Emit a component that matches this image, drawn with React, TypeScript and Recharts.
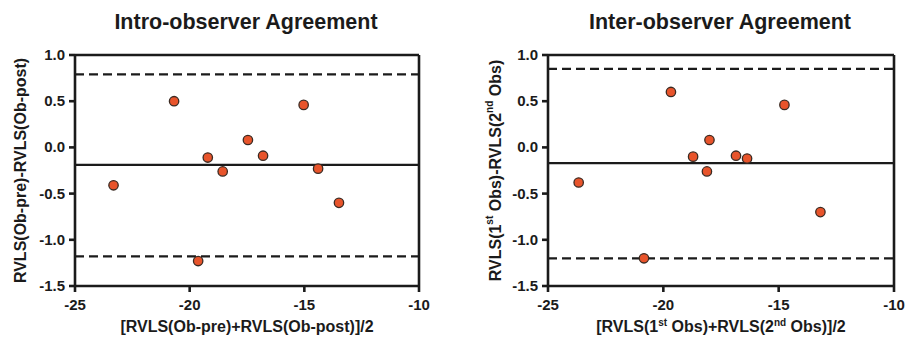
import React from "react";
import {
  ScatterChart,
  Scatter,
  XAxis,
  YAxis,
  ReferenceLine,
} from "recharts";

const xTicks = [-25, -20, -15, -10];
const yTicks = [-1.5, -1.0, -0.5, 0.0, 0.5, 1.0];

const introX = [-23.32, -20.68, -19.63, -19.21, -18.56, -17.46, -16.8, -15.03, -14.4, -13.49];
const introY = [-0.41, 0.5, -1.23, -0.11, -0.26, 0.08, -0.09, 0.46, -0.23, -0.6];
const introMean = -0.19;
const introUpper = 0.79;
const introLower = -1.18;

const interX = [-23.67, -20.84, -19.67, -18.71, -18.11, -18.0, -16.85, -16.37, -14.75, -13.19];
const interY = [-0.38, -1.2, 0.6, -0.1, -0.26, 0.08, -0.09, -0.12, 0.46, -0.7];
const interMean = -0.17;
const interUpper = 0.85;
const interLower = -1.2;

const FONT = "'Liberation Sans', Arial, Helvetica, sans-serif";
const INK = "#1b1b1b";
const LW = 2.6;
const AX = { stroke: INK, strokeWidth: LW };

const toRows = (xs: number[], ys: number[]) => xs.map((x, i) => ({ x, y: ys[i] }));

const Dot = (p: any) => (
  <circle cx={p.cx} cy={p.cy} r={4.7} fill="#E8542B" stroke="#3b2a22" strokeWidth={1.3} />
);

const XTick = (p: any) => (
  <text x={p.x} y={p.y} dy={14} textAnchor="middle" fontFamily={FONT} fontSize={15} fontWeight={700} fill={INK}>
    {p.payload.value}
  </text>
);
const YTick = (p: any) => (
  <text x={p.x} y={p.y} dy={5} textAnchor="end" fontFamily={FONT} fontSize={15} fontWeight={700} fill={INK}>
    {Number(p.payload.value).toFixed(1)}
  </text>
);

const Sup = ({ children }: { children: React.ReactNode }) => (
  <tspan fontSize={10} dy={-6}>
    {children}
  </tspan>
);
const Down = ({ children }: { children: React.ReactNode }) => <tspan dy={6}>{children}</tspan>;

const textStyle = { fontFamily: FONT, fontWeight: 700, fill: INK } as const;

export default function App() {
  return (
    <div style={{ position: "absolute", left: 0, top: 0, width: 905, height: 339, background: "#fff" }}>
      <div style={{ position: "absolute", left: 0, top: 0 }}>
        <ScatterChart width={455} height={339} margin={{ top: 55, right: 36, bottom: 0, left: 0 }}>
          <XAxis type="number" dataKey="x" domain={[-25, -10]} ticks={xTicks} allowDataOverflow tick={XTick} tickSize={6} tickMargin={4} height={53} axisLine={AX} tickLine={AX} />
          <YAxis type="number" dataKey="y" domain={[-1.5, 1]} ticks={yTicks} allowDataOverflow width={75} tick={YTick} tickSize={6} tickMargin={4} axisLine={AX} tickLine={AX} />
          <ReferenceLine y={1} stroke={INK} strokeWidth={LW} />
          <ReferenceLine x={-10} stroke={INK} strokeWidth={LW} />
          <ReferenceLine y={introUpper} stroke={INK} strokeWidth={2.2} strokeDasharray="9 5" />
          <ReferenceLine y={introLower} stroke={INK} strokeWidth={2.2} strokeDasharray="9 5" />
          <ReferenceLine y={introMean} stroke={INK} strokeWidth={2.2} />
          <Scatter data={toRows(introX, introY)} shape={Dot} isAnimationActive={false} />
        </ScatterChart>
      </div>
      <div style={{ position: "absolute", left: 455, top: 0 }}>
        <ScatterChart width={450} height={339} margin={{ top: 55, right: 11, bottom: 0, left: 0 }}>
          <XAxis type="number" dataKey="x" domain={[-25, -10]} ticks={xTicks} allowDataOverflow tick={XTick} tickSize={6} tickMargin={4} height={53} axisLine={AX} tickLine={AX} />
          <YAxis type="number" dataKey="y" domain={[-1.5, 1]} ticks={yTicks} allowDataOverflow width={93} tick={YTick} tickSize={6} tickMargin={4} axisLine={AX} tickLine={AX} />
          <ReferenceLine y={1} stroke={INK} strokeWidth={LW} />
          <ReferenceLine x={-10} stroke={INK} strokeWidth={LW} />
          <ReferenceLine y={interUpper} stroke={INK} strokeWidth={2.2} strokeDasharray="9 5" />
          <ReferenceLine y={interLower} stroke={INK} strokeWidth={2.2} strokeDasharray="9 5" />
          <ReferenceLine y={interMean} stroke={INK} strokeWidth={2.2} />
          <Scatter data={toRows(interX, interY)} shape={Dot} isAnimationActive={false} />
        </ScatterChart>
      </div>
      <svg width={905} height={339} style={{ position: "absolute", left: 0, top: 0, pointerEvents: "none" }}>
        <text x={246} y={29} textAnchor="middle" fontSize={21.5} {...textStyle}>
          Intro-observer Agreement
        </text>
        <text x={720} y={29} textAnchor="middle" fontSize={21.5} {...textStyle}>
          Inter-observer Agreement
        </text>
        <text x={247} y={332} textAnchor="middle" fontSize={16} {...textStyle}>
          [RVLS(Ob-pre)+RVLS(Ob-post)]/2
        </text>
        <text x={721} y={332} textAnchor="middle" fontSize={16} {...textStyle}>
          <tspan>[RVLS(1</tspan>
          <Sup>st</Sup>
          <Down> Obs)+RVLS(2</Down>
          <Sup>nd</Sup>
          <Down> Obs)]/2</Down>
        </text>
        <text x={20} y={170.5} transform="rotate(-90 20 170.5)" textAnchor="middle" dominantBaseline="central" fontSize={16} {...textStyle}>
          RVLS(Ob-pre)-RVLS(Ob-post)
        </text>
        <text x={495} y={170.5} transform="rotate(-90 495 170.5)" textAnchor="middle" dominantBaseline="central" fontSize={16} {...textStyle}>
          <tspan>RVLS(1</tspan>
          <Sup>st</Sup>
          <Down> Obs)-RVLS(2</Down>
          <Sup>nd</Sup>
          <Down> Obs)</Down>
        </text>
      </svg>
    </div>
  );
}
